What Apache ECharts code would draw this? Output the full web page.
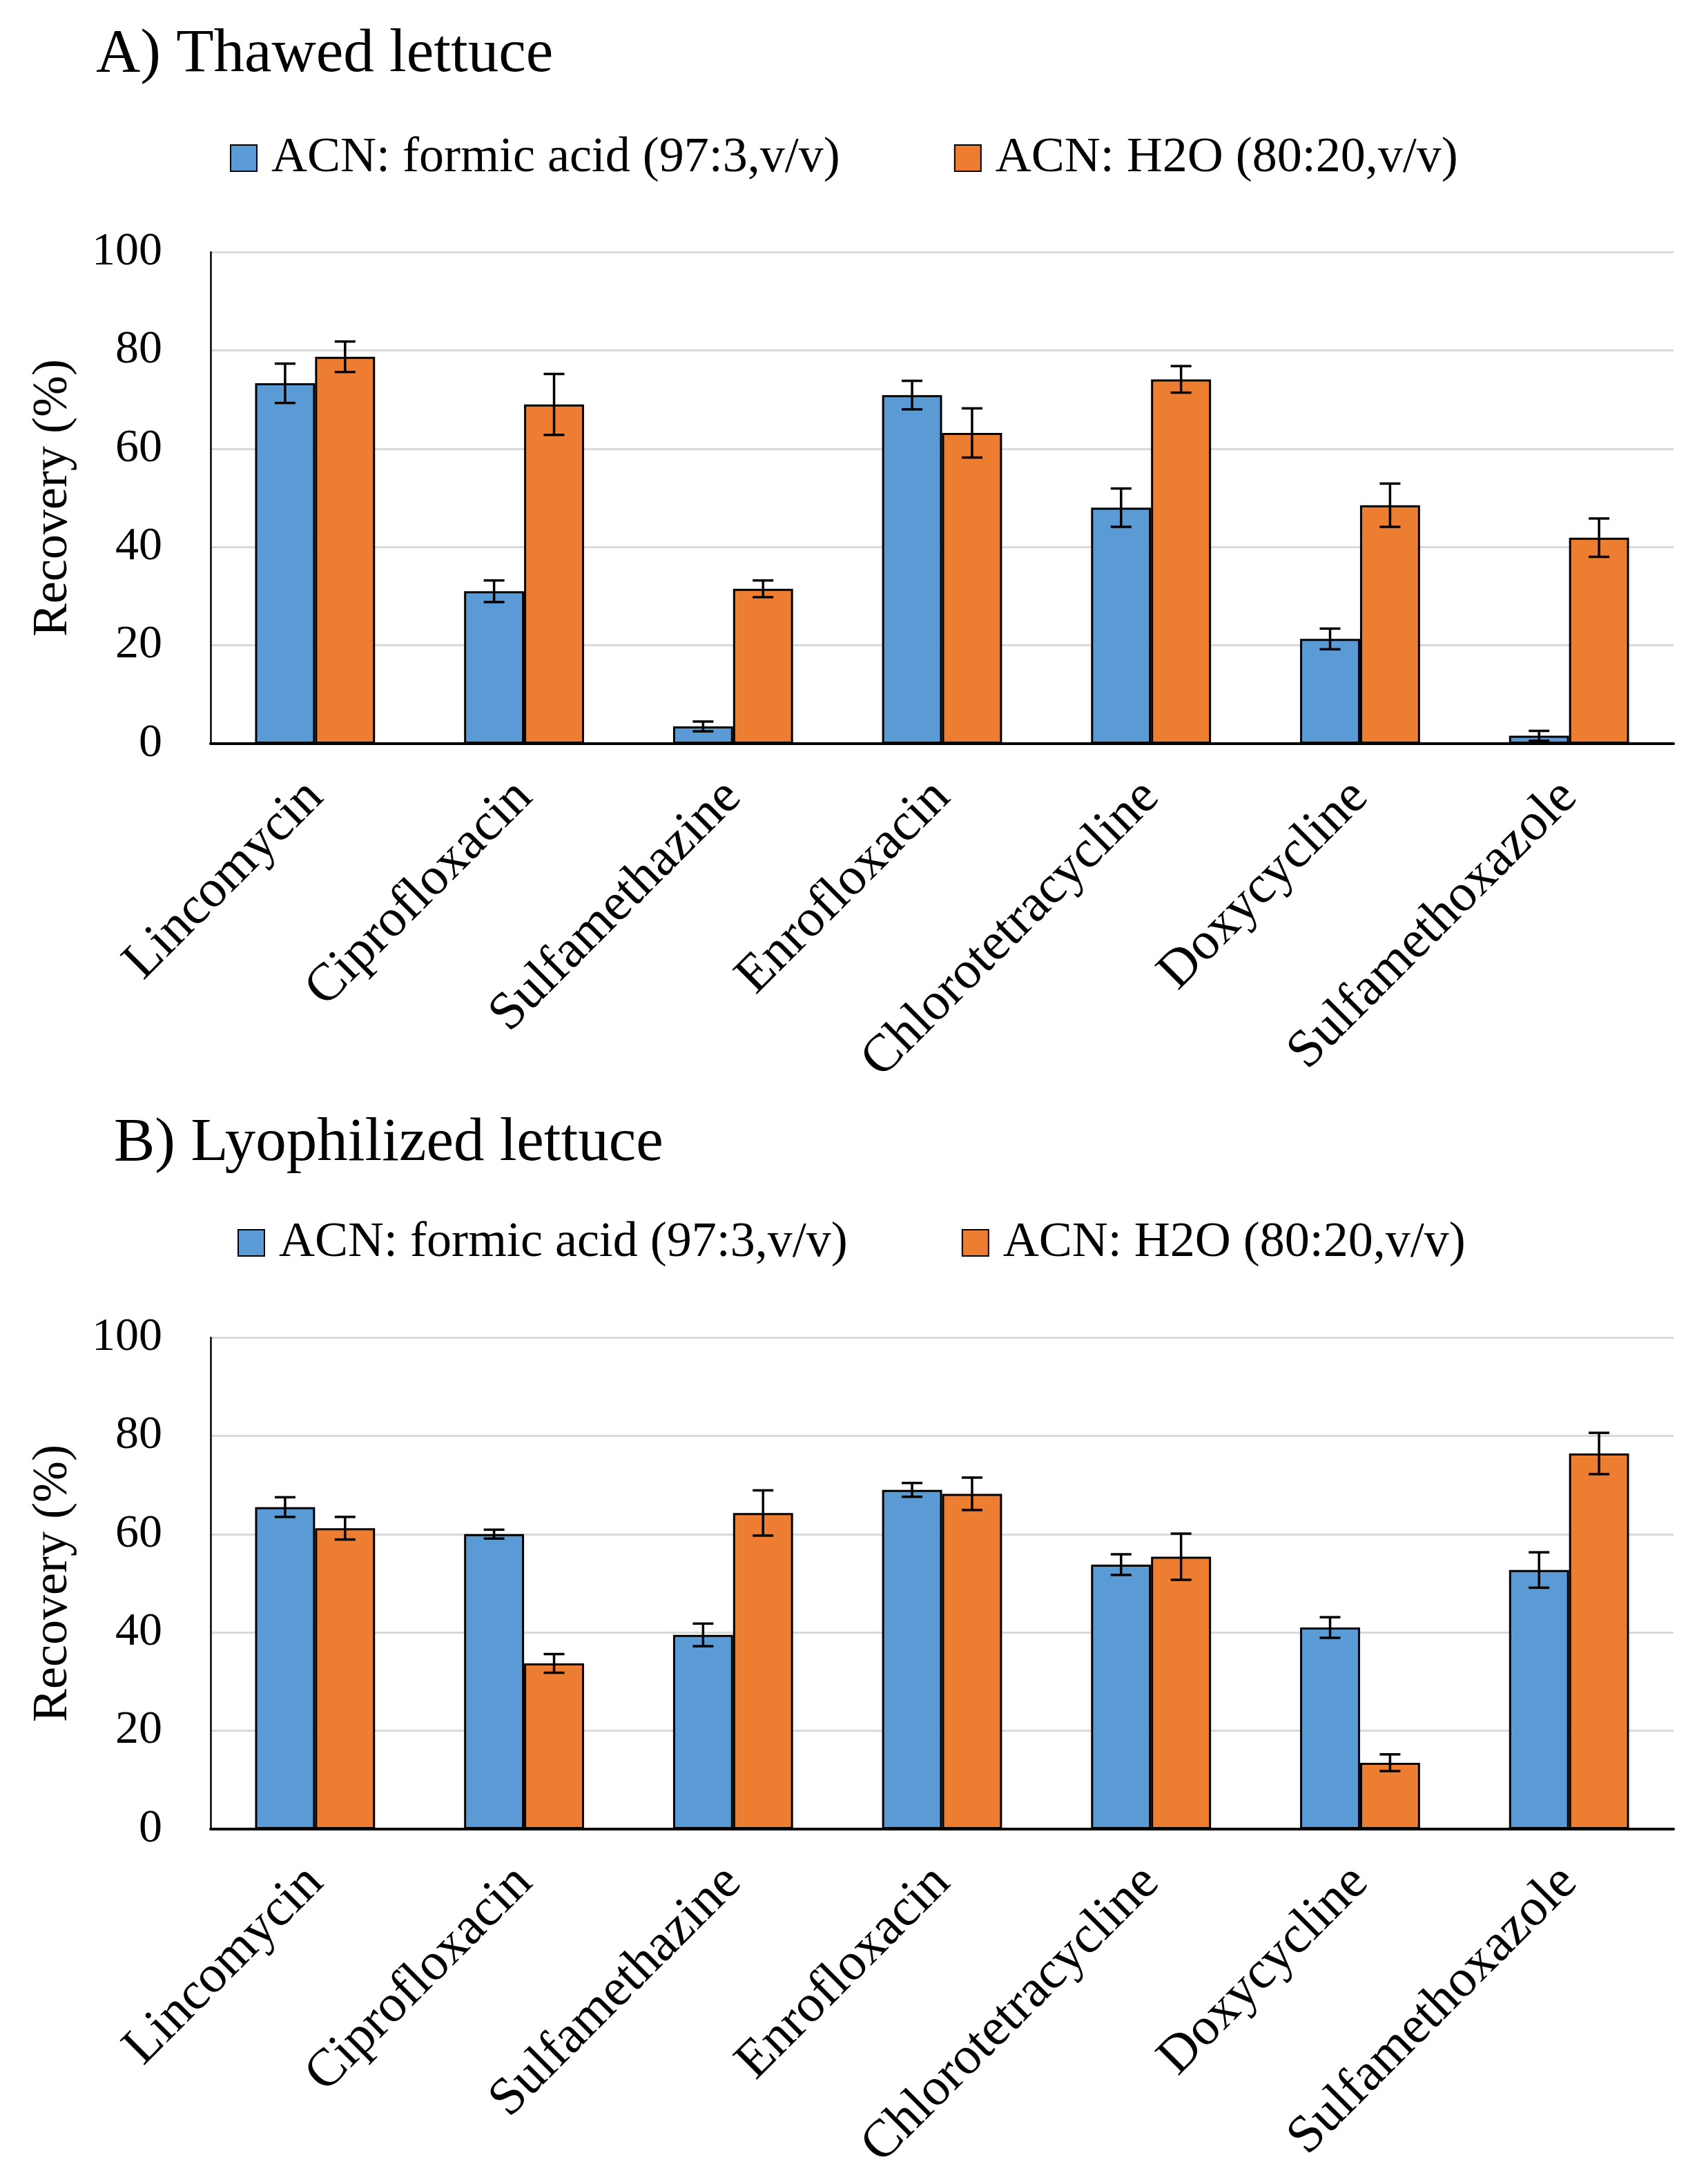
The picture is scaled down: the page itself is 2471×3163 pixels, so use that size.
<!DOCTYPE html>
<html>
<head>
<meta charset="utf-8">
<script src="https://cdn.jsdelivr.net/npm/echarts@6/dist/echarts.min.js"></script>
<style>
html,body{margin:0;padding:0;background:#fff;}
#chart{width:2471px;height:3163px;}
</style>
</head>
<body>
<div id="chart"></div>
<script>
const categories = ['Lincomycin','Ciprofloxacin','Sulfamethazine','Enrofloxacin','Chlorotetracycline','Doxycycline','Sulfamethoxazole'];
const seriesNames = ['ACN: formic acid (97:3,v/v)', 'ACN: H2O (80:20,v/v)'];
const yTicks = [0, 20, 40, 60, 80, 100];

const thawedFormic    = [73.3, 31.0, 3.5, 70.9, 48.0, 21.3, 1.6];
const thawedFormicErr = [4.0, 2.2, 1.0, 2.9, 3.9, 2.1, 1.0];
const thawedWater     = [78.7, 69.0, 31.5, 63.2, 74.1, 48.5, 41.9];
const thawedWaterErr  = [3.1, 6.2, 1.7, 5.0, 2.7, 4.4, 3.9];

const lyoFormic    = [65.5, 60.0, 39.5, 69.0, 53.8, 41.0, 52.7];
const lyoFormicErr = [2.0, 0.9, 2.3, 1.4, 2.1, 2.1, 3.6];
const lyoWater     = [61.2, 33.7, 64.3, 68.2, 55.4, 13.5, 76.4];
const lyoWaterErr  = [2.3, 1.9, 4.6, 3.3, 4.7, 1.7, 4.2];

const FONT = 'Liberation Serif';
const BLUE = '#5B9BD5';
const ORANGE = '#ED7D31';
const BAR_FRAC = 0.287;

function errSeries(vals, errs, axisIdx, side) {
  return {
    type: 'custom',
    name: 'err' + axisIdx + side,
    xAxisIndex: axisIdx,
    yAxisIndex: axisIdx,
    z: 10,
    silent: true,
    encode: {x: 0, y: 1},
    data: vals.map((v, i) => [i, v, errs[i]]),
    renderItem: function (params, api) {
      const i = api.value(0), v = api.value(1), e = api.value(2);
      const band = api.size([1, 0])[0];
      const off = side * band * BAR_FRAC / 2;
      const hi = api.coord([i, v + e]);
      const lo = api.coord([i, v - e]);
      const x = hi[0] + off;
      const cap = 15;
      const st = {stroke: '#000', lineWidth: 3.5};
      return {
        type: 'group',
        children: [
          {type: 'line', shape: {x1: x, y1: hi[1], x2: x, y2: lo[1]}, style: st},
          {type: 'line', shape: {x1: x - cap, y1: hi[1], x2: x + cap, y2: hi[1]}, style: st},
          {type: 'line', shape: {x1: x - cap, y1: lo[1], x2: x + cap, y2: lo[1]}, style: st}
        ]
      };
    }
  };
}

function barSeries(name, vals, color, axisIdx) {
  return {
    type: 'bar',
    name: name,
    xAxisIndex: axisIdx,
    yAxisIndex: axisIdx,
    data: vals,
    barWidth: (BAR_FRAC * 100) + '%',
    barGap: '0%',
    itemStyle: {color: color, borderColor: '#000', borderWidth: 3},
    z: 2
  };
}

function xAxisDef(gridIdx) {
  return {
    type: 'category',
    gridIndex: gridIdx,
    data: categories,
    axisLine: {show: true, lineStyle: {color: '#000', width: 4}},
    axisTick: {show: false},
    axisLabel: {rotate: 45, margin: 66, interval: 0, fontFamily: FONT, fontSize: 77, color: '#000'},
    splitLine: {show: false}
  };
}

function yAxisDef(gridIdx) {
  return {
    type: 'value',
    gridIndex: gridIdx,
    min: yTicks[0],
    max: yTicks[yTicks.length - 1],
    interval: 20,
    name: 'Recovery (%)',
    nameLocation: 'middle',
    nameRotate: 90,
    nameGap: 192,
    nameTextStyle: {fontFamily: FONT, fontSize: 72, color: '#000'},
    axisLine: {show: true, lineStyle: {color: '#000', width: 2.5}},
    axisTick: {show: false},
    axisLabel: {margin: 70, fontFamily: FONT, fontSize: 68, color: '#000'},
    splitLine: {show: true, lineStyle: {color: '#D9D9D9', width: 3}}
  };
}

function legendDef(left, top) {
  return {
    data: seriesNames,
    left: left,
    top: top,
    itemWidth: 38,
    itemHeight: 38,
    itemGap: 165,
    icon: 'rect',
    textStyle: {fontFamily: FONT, fontSize: 72, color: '#000', padding: [0, 0, 0, 16]}
  };
}

const chart = echarts.init(document.getElementById('chart'), null, {renderer: 'canvas'});
chart.setOption({
  backgroundColor: '#fff',
  animation: false,
  title: [
    {text: 'A) Thawed lettuce', left: 134, top: 30, textStyle: {fontFamily: FONT, fontSize: 89, fontWeight: 'normal', color: '#000'}},
    {text: 'B) Lyophilized lettuce', left: 160, top: 1607, textStyle: {fontFamily: FONT, fontSize: 89, fontWeight: 'normal', color: '#000'}}
  ],
  legend: [legendDef(328, 188), legendDef(339, 1759)],
  grid: [
    {left: 305, top: 365, width: 2119, height: 712, containLabel: false},
    {left: 305, top: 1937, width: 2119, height: 712, containLabel: false}
  ],
  xAxis: [xAxisDef(0), xAxisDef(1)],
  yAxis: [yAxisDef(0), yAxisDef(1)],
  series: [
    barSeries(seriesNames[0], thawedFormic, BLUE, 0),
    barSeries(seriesNames[1], thawedWater, ORANGE, 0),
    barSeries(seriesNames[0], lyoFormic, BLUE, 1),
    barSeries(seriesNames[1], lyoWater, ORANGE, 1),
    errSeries(thawedFormic, thawedFormicErr, 0, -1),
    errSeries(thawedWater, thawedWaterErr, 0, 1),
    errSeries(lyoFormic, lyoFormicErr, 1, -1),
    errSeries(lyoWater, lyoWaterErr, 1, 1)
  ]
});
</script>
</body>
</html>
